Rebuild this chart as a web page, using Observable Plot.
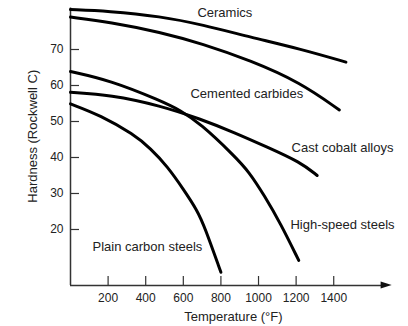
<!DOCTYPE html>
<html>
<head>
<meta charset="utf-8">
<script src="https://cdn.jsdelivr.net/npm/d3@7"></script>
<script src="https://cdn.jsdelivr.net/npm/@observablehq/plot@0.6"></script>
<style>
  html, body { margin: 0; padding: 0; background: #fff; }
  #chart svg { display: block; }
</style>
</head>
<body>
<div id="chart"></div>
<script>
// Series: temperature (°F) and hardness (Rockwell C)
const ceramicsT = [0, 200, 480, 700, 960, 1220, 1465];
const ceramicsH = [81.1, 80.7, 79.2, 76.9, 73.4, 70.2, 66.5];

const carbidesT = [0, 210, 480, 700, 960, 1220, 1430];
const carbidesH = [79.0, 77.6, 74.8, 71.6, 66.9, 60.9, 53.2];

const cobaltT = [0, 213, 479, 691, 869, 1046, 1223, 1312];
const cobaltH = [58.1, 57.4, 54.4, 50.7, 47.0, 42.9, 38.7, 35.0];

const hssT = [0, 213, 479, 585, 691, 869, 950, 1030, 1117, 1214];
const hssH = [63.9, 61.4, 55.8, 53.1, 49.4, 40.6, 36.0, 29.5, 21.7, 11.4];

const carbonT = [0, 160, 337, 426, 514, 603, 674, 713, 800];
const carbonH = [54.9, 51.7, 46.4, 42.5, 37.6, 31.0, 25.3, 20.8, 8.1];

// Curve labels (text start temperature, baseline hardness)
const labelNames = ["Ceramics", "Cemented carbides", "Cast cobalt alloys", "High-speed steels", "Plain carbon steels"];
const labelT = [675, 638, 1176, 1170, 117];
const labelH = [78.9, 56.4, 41.5, 20.1, 13.9];

// Ticks
const xTicks = [200, 400, 600, 800, 1000, 1200, 1400];
const yTicks = [20, 30, 40, 50, 60, 70];

const xDomain = [0, 1711];
const yDomain = [4.44, 81.53];
const yBase = yDomain[0];

const series = [
  [ceramicsT, ceramicsH],
  [carbidesT, carbidesH],
  [cobaltT, cobaltH],
  [hssT, hssH],
  [carbonT, carbonH]
].map(([T, H]) => T.map((t, i) => ({t, h: H[i]})));

const labels = labelNames.map((name, i) => ({name, t: labelT[i], h: labelH[i]}));

const arrowHead = [
  {t: 1652, lo: yBase - 0.97, hi: yBase + 0.97},
  {t: 1711, lo: yBase, hi: yBase}
];

const font = "'Liberation Sans', Arial, Helvetica, sans-serif";

const chart = Plot.plot({
  width: 408,
  height: 326,
  marginLeft: 70,
  marginRight: 16.3,
  marginTop: 7.5,
  marginBottom: 41,
  style: {fontFamily: font, background: "#fff", color: "#222"},
  x: {domain: xDomain, label: null},
  y: {domain: yDomain, label: null},
  marks: [
    // axis lines
    Plot.ruleX([0], {stroke: "#333", strokeWidth: 1.5}),
    Plot.ruleY([yBase], {x1: 0, x2: 1660, stroke: "#333", strokeWidth: 1.5}),
    Plot.areaY(arrowHead, {x: "t", y1: "lo", y2: "hi", fill: "#111", curve: "linear"}),
    // inward ticks
    Plot.ruleX(xTicks, {y1: yBase, y2: yBase + 2.5, stroke: "#333", strokeWidth: 1.2}),
    Plot.ruleY(yTicks, {x1: 0, x2: 48, stroke: "#333", strokeWidth: 1.2}),
    // tick labels
    Plot.axisX({ticks: xTicks, tickSize: 0, tickPadding: 8, fontSize: 12, label: null, tickFormat: d3.format("d")}),
    Plot.axisY({ticks: yTicks, tickSize: 0, tickPadding: 7, fontSize: 12, label: null, tickFormat: d3.format("d")}),
    // curves
    ...series.map(data => Plot.line(data, {x: "t", y: "h", stroke: "#000", strokeWidth: 3, curve: "basis"})),
    // curve labels
    Plot.text(labels, {x: "t", y: "h", text: "name", textAnchor: "start", lineAnchor: "bottom", fontSize: 13, fill: "#222"}),
    // axis titles
    Plot.text(["Temperature (°F)"], {frameAnchor: "bottom", textAnchor: "middle", dx: 2, dy: 35, lineAnchor: "bottom", fontSize: 13, fill: "#222"}),
    Plot.text(["Hardness (Rockwell C)"], {frameAnchor: "left", textAnchor: "middle", lineAnchor: "middle", dx: -37.5, dy: -10.5, rotate: -90, fontSize: 13, fill: "#222"})
  ]
});

document.getElementById("chart").appendChild(chart);
</script>
</body>
</html>
